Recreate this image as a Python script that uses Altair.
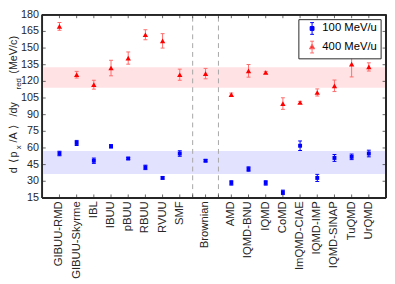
import altair as alt
import pandas as pd

# ---------------- data ----------------
models = ["GIBUU-RMD", "GIBUU-Skyrme", "IBL", "IBUU", "pBUU", "RBUU", "RVUU", "SMF",
          "Brownian",
          "AMD", "IQMD-BNU", "IQMD", "CoMD", "ImQMD-CIAE", "IQMD-IMP", "IQMD-SINAP", "TuQMD", "UrQMD"]
positions = [1, 2, 3, 4, 5, 6, 7, 8, 9.5, 11, 12, 13, 14, 15, 16, 17, 18, 19]

series = ["100 MeV/u", "400 MeV/u"]
v100 = [55, 64.5, 48.5, 61.5, 50.5, 42.5, 33, 55, 48.5, 28.5, 41, 28.5, 20, 62, 33, 51, 52, 55]
e100 = [2, 2.3, 2.4, 1.5, 1, 2, 1, 2.5, 1, 2, 2, 2, 2, 4.3, 3.2, 3.1, 2.5, 3]
v400 = [169.5, 126, 117, 132, 141, 162, 156.5, 126, 127, 108, 129.5, 128, 100, 101, 110, 116, 135.5, 133]
e400 = [3.5, 3, 4, 7, 5.5, 4.5, 6.5, 5, 4.7, 1.5, 5.7, 1, 5.2, 1, 3.2, 5.2, 11.5, 3.7]

band100 = [36.5, 57.2]
band400 = [114.3, 132.7]
dividers = [8.75, 10.25]
yticks = [15, 30, 45, 60, 75, 90, 105, 120, 135, 150, 165, 180]
xdomain = [0, 20]
ydomain = [15, 180]

# y-axis title pieces (TeX-like: subscripts drawn smaller and lowered)
title_text = ["d", "⟨", "p", "x", "/A", "⟩", "/dy", "red", "(MeV/c)"]
title_sub = [0, 0, 0, 1, 0, 0, 0, 1, 0]
title_at = [40.0, 48.0, 54.0, 60.5, 69.5, 78.9, 94.9, 117.8, 143.9]   # in y-axis units

# ---------------- tables ----------------
def table(vals, errs, name):
    return pd.DataFrame({
        "model": models, "pos": positions, "value": vals,
        "lo": [v - e for v, e in zip(vals, errs)],
        "hi": [v + e for v, e in zip(vals, errs)],
        "series": name,
    })

d100 = table(v100, e100, series[0])
d400 = table(v400, e400, series[1])
ytick_df = pd.DataFrame({"v": yticks})
xtick_df = pd.DataFrame({"p": positions + dividers})
div_df = pd.DataFrame({"p": dividers})
label_df = pd.DataFrame({"model": models, "pos": positions})
title_df = pd.DataFrame({"t": title_text, "sub": title_sub, "ty": title_at})
legend_df = pd.DataFrame({"leg": series, "pos": [-5, -5], "value": [100, 100]})

FONT = "Liberation Sans"
AX = "#262626"
BLUE = "#0000ff"
RED = "#ff0000"
RED_BAR = "#ff6a6a"
FS = 11.5

xs = alt.Scale(domain=xdomain, nice=False, zero=False)
ys = alt.Scale(domain=ydomain, nice=False, zero=False)

def band(lims, col):
    return alt.Chart(pd.DataFrame({"lo": [lims[0]], "hi": [lims[1]]})).mark_rect(color=col, opacity=1).encode(
        x=alt.X(datum=xdomain[0], scale=xs, axis=None),
        x2=alt.X2(datum=xdomain[1]),
        y=alt.Y("lo:Q", scale=ys, axis=None),
        y2="hi:Q",
    )

div_layer = alt.Chart(div_df).mark_rule(color="#a6a6a6", strokeWidth=1, strokeDash=[5, 4]).encode(
    x=alt.X("p:Q", scale=xs, axis=None),
    y=alt.Y(datum=ydomain[0], scale=ys, axis=None),
    y2=alt.Y2(datum=ydomain[1]),
)

def bars(df, col):
    rule = alt.Chart(df).mark_rule(color=col, strokeWidth=1).encode(
        x=alt.X("pos:Q", scale=xs, axis=None),
        y=alt.Y("lo:Q", scale=ys, axis=None),
        y2="hi:Q",
    )
    cap_lo = alt.Chart(df).mark_tick(color=col, orient="horizontal", size=4, thickness=1, opacity=1).encode(
        x=alt.X("pos:Q", scale=xs, axis=None),
        y=alt.Y("lo:Q", scale=ys, axis=None),
    )
    cap_hi = alt.Chart(df).mark_tick(color=col, orient="horizontal", size=4, thickness=1, opacity=1).encode(
        x=alt.X("pos:Q", scale=xs, axis=None),
        y=alt.Y("hi:Q", scale=ys, axis=None),
    )
    return [rule, cap_lo, cap_hi]

def markers(df, shape, col, size):
    return alt.Chart(df).mark_point(filled=True, opacity=1, shape=shape, color=col, size=size).encode(
        x=alt.X("pos:Q", scale=xs, axis=None),
        y=alt.Y("value:Q", scale=ys, axis=None),
    )

sq = "M-0.33,-0.33H0.33V0.33H-0.33Z M0,-1V1 M-0.33,-1H0.33 M-0.33,1H0.33"
tri = "M0,-0.5L0.45,0.3H-0.45Z M0,-1V1 M-0.33,-1H0.33 M-0.33,1H0.33"

legend = alt.Legend(
    title=None, orient="none", legendX=261.5, legendY=4.5, direction="vertical",
    padding=3, rowPadding=2, strokeColor=AX, fillColor="white",
    labelFont=FONT, labelFontSize=FS, labelColor="#000000", labelOffset=4,
    symbolOffset=4.5, symbolSize=144, symbolStrokeWidth=1, symbolOpacity=1,
)

legend_layer = alt.Chart(legend_df).mark_point(filled=True, size=144, strokeWidth=1, opacity=1, clip=True).encode(
    x=alt.X("pos:Q", scale=xs, axis=None),
    y=alt.Y("value:Q", scale=ys, axis=None),
    fill=alt.Fill("leg:N", scale=alt.Scale(domain=series, range=[BLUE, RED]), legend=legend),
    stroke=alt.Stroke("leg:N", scale=alt.Scale(domain=series, range=[BLUE, RED_BAR]), legend=legend),
    shape=alt.Shape("leg:N", scale=alt.Scale(domain=series, range=[sq, tri]), legend=legend),
)

tick_style = dict(color=AX, strokeWidth=0.7)
left_ticks = alt.Chart(ytick_df).mark_rule(x2Offset=3.5, **tick_style).encode(
    x=alt.X(datum=xdomain[0], scale=xs, axis=None), x2=alt.X2(datum=xdomain[0]),
    y=alt.Y("v:Q", scale=ys, axis=None))
right_ticks = alt.Chart(ytick_df).mark_rule(x2Offset=-3.5, **tick_style).encode(
    x=alt.X(datum=xdomain[1], scale=xs, axis=None), x2=alt.X2(datum=xdomain[1]),
    y=alt.Y("v:Q", scale=ys, axis=None))
bottom_ticks = alt.Chart(xtick_df).mark_rule(y2Offset=-3.5, **tick_style).encode(
    x=alt.X("p:Q", scale=xs, axis=None),
    y=alt.Y(datum=ydomain[0], scale=ys, axis=None), y2=alt.Y2(datum=ydomain[0]))
top_ticks = alt.Chart(xtick_df).mark_rule(y2Offset=3.5, **tick_style).encode(
    x=alt.X("p:Q", scale=xs, axis=None),
    y=alt.Y(datum=ydomain[1], scale=ys, axis=None), y2=alt.Y2(datum=ydomain[1]))

frame = alt.Chart(ytick_df).mark_rect(fillOpacity=0, stroke=AX, strokeWidth=0.8).encode(
    x=alt.X(datum=xdomain[0], scale=xs, axis=None), x2=alt.X2(datum=xdomain[1]),
    y=alt.Y(datum=ydomain[0], scale=ys, axis=None), y2=alt.Y2(datum=ydomain[1]))

# x tick labels (rotated category names)
xlabels = alt.Chart(label_df).mark_text(
    angle=270, align="right", baseline="middle", font=FONT, fontSize=FS, color=AX, yOffset=3.5
).encode(
    x=alt.X("pos:Q", scale=xs, axis=None),
    y=alt.Y(datum=ydomain[0], scale=ys, axis=None),
    text="model:N",
)

# y tick labels
ylabels = alt.Chart(ytick_df).mark_text(
    align="right", baseline="middle", font=FONT, fontSize=11, color=AX, xOffset=-3.3
).encode(
    x=alt.X(datum=xdomain[0], scale=xs, axis=None),
    y=alt.Y("v:Q", scale=ys, axis=None),
    text=alt.Text("v:Q", format="d"),
)

title_main = alt.Chart(title_df).transform_filter("datum.sub == 0").mark_text(
    angle=270, align="center", baseline="alphabetic", font=FONT, fontSize=11, color=AX
).encode(x=alt.value(-25.3), y=alt.Y("ty:Q", scale=ys, axis=None), text="t:N")
title_subs = alt.Chart(title_df).transform_filter("datum.sub == 1").mark_text(
    angle=270, align="center", baseline="alphabetic", font=FONT, fontSize=8, color=AX
).encode(x=alt.value(-21.8), y=alt.Y("ty:Q", scale=ys, axis=None), text="t:N")

chart = alt.layer(
    band(band100, "#e2e2ff"), band(band400, "#ffe2e4"), div_layer,
    *bars(d100, BLUE), *bars(d400, RED_BAR),
    markers(d100, "square", BLUE, 16), markers(d400, "triangle-up", RED, 30),
    left_ticks, right_ticks, bottom_ticks, top_ticks, frame,
    xlabels, ylabels, title_main, title_subs, legend_layer,
).properties(
    width=351, height=187,
    autosize=alt.AutoSizeParams(type="none"),
    padding={"left": 35, "top": 4, "right": 1, "bottom": 85},
).configure_view(stroke=None).configure(font=FONT)

chart.save("out.html", embed_options={"renderer": "svg", "actions": False})
